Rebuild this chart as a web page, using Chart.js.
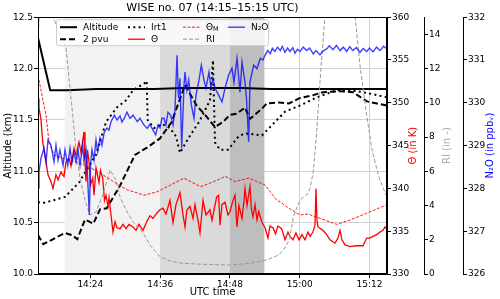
<!DOCTYPE html>
<html>
<head>
<meta charset="utf-8">
<script src="https://cdn.jsdelivr.net/npm/chart.js@4.4.0/dist/chart.umd.min.js"></script>
<style>
  body { margin: 0; background: #fff; }
</style>
</head>
<body>
<canvas id="myChart" width="500" height="299"></canvas>
<script>
// time axis: minutes after 14:15 UTC
var xTicks = [9, 21, 33, 45, 57];
var xTickLabels = ['14:24', '14:36', '14:48', '15:00', '15:12'];

// shaded time windows (minutes)
var spanStart = [4.6, 21, 33];
var spanEnd = [38.9, 38.9, 38.9];

// altitude (km)
var altT = [0, 2.1, 5, 10, 15, 20, 25, 30, 35, 40, 45, 50, 55, 60];
var altV = [12.30, 11.79, 11.79, 11.80, 11.80, 11.80, 11.81, 11.81, 11.81, 11.80, 11.80, 11.80, 11.80, 11.80];

// 2 pvu surface (km)
var pvuT = [0, 0.91, 4.64, 5.79, 6.76, 8.08, 9.51, 10.66, 11.81, 14.10, 16.67, 18.74, 20.97, 22.98, 25.27, 27.28, 28.71, 30.43, 31.80, 33.01, 34.16, 35.59, 36.44, 38.51, 39.32, 41.43, 43.15, 44.87, 47.27, 48.99, 51.92, 54.15, 56.56, 58.28, 60];
var pvuV = [10.38, 10.29, 10.40, 10.38, 10.34, 10.53, 10.49, 10.63, 10.64, 10.86, 11.16, 11.23, 11.32, 11.48, 11.84, 11.64, 11.55, 11.43, 11.48, 11.55, 11.56, 11.62, 11.51, 11.61, 11.66, 11.67, 11.66, 11.71, 11.74, 11.77, 11.78, 11.77, 11.68, 11.66, 11.64];

// Irt1 (km)
var irtT = [0, 0.86, 4.64, 7.05, 9.97, 11.69, 13.53, 15.13, 16.33, 18.39, 18.69, 18.86, 19.94, 21.32, 22.69, 23.72, 24.41, 25.96, 27.68, 29.57, 30.08, 30.43, 31.29, 32.66, 34.50, 35.59, 38.51, 40.23, 42.46, 45.04, 47.96, 51.40, 54.84, 57.59, 60];
var irtV = [10.70, 10.69, 10.75, 10.89, 11.16, 11.48, 11.62, 11.69, 11.79, 11.86, 11.88, 11.50, 11.42, 11.46, 11.42, 11.34, 11.18, 11.33, 11.48, 11.69, 12.08, 11.28, 11.21, 11.21, 11.34, 11.37, 11.35, 11.45, 11.58, 11.64, 11.72, 11.79, 11.78, 11.75, 11.72];

// potential temperature (K)
var thetaT = [0, 0.17, 0.52, 0.81, 1.38, 1.72, 2.23, 2.58, 3.09, 3.44,
  3.95, 4.47, 4.81, 5.33, 5.67, 6.19, 6.53, 7.05, 7.39, 7.91,
  8.08, 8.25, 8.51, 8.77, 9.03, 9.40, 9.63, 9.97, 10.49, 10.74,
  11.12, 11.43, 11.69, 12.03, 12.21, 12.55, 12.89, 13.24, 13.58, 14.10,
  14.61, 15.13, 15.64, 16.33, 16.85, 17.36, 18.05, 18.69, 19.25, 19.77,
  20.41, 20.97, 21.49, 22.00, 22.69, 23.21, 23.72, 24.41, 24.93, 25.27,
  25.61, 26.13, 26.65, 26.99, 27.50, 27.85, 28.37, 28.88, 29.57, 29.91,
  30.72, 31.06, 31.29, 31.63, 32.15, 32.66, 33.01, 33.52, 33.87, 34.21,
  34.55, 35.07, 35.42, 35.59, 35.94, 36.19, 36.44, 36.70, 36.96, 37.31,
  37.65, 37.94, 38.46, 39.03, 39.54, 39.88, 40.40, 40.83, 41.26, 41.89,
  42.46, 42.98, 43.32, 43.84, 44.35, 44.87, 45.38, 45.90, 46.42, 46.76,
  47.27, 47.62, 47.79, 47.96, 48.13, 48.99, 49.63, 50.20, 51.06, 51.57,
  51.92, 52.26, 52.78, 53.64, 54.67, 55.87, 56.51, 57.07, 57.59, 58.23,
  58.80, 59.31, 59.65, 60];
var thetaV = [350.5, 349.4, 348.0, 345.4, 343.1, 341.6, 340.8, 340.0, 341.6, 341.0,
  341.9, 341.4, 343.1, 343.5, 342.6, 344.7, 343.9, 345.4, 344.2, 346.6,
  343.3, 340.8, 344.5, 343.1, 340.4, 341.2, 339.2, 342.4, 340.7, 342.1,
  341.2, 338.6, 339.2, 337.9, 338.9, 336.9, 334.9, 336.1, 335.4, 335.3,
  335.8, 335.3, 335.8, 335.5, 335.1, 335.8, 335.1, 336.1, 336.8, 336.5,
  337.1, 337.5, 337.7, 337.0, 338.6, 336.0, 338.1, 339.5, 336.9, 335.5,
  337.5, 337.9, 336.5, 338.1, 336.3, 334.8, 338.6, 336.9, 337.5, 336.3,
  339.0, 339.2, 335.7, 338.1, 338.4, 336.9, 337.3, 338.6, 339.2, 335.5,
  338.0, 336.5, 338.6, 340.0, 338.0, 339.2, 340.2, 337.5, 336.7, 338.1,
  336.3, 337.3, 336.1, 335.4, 334.2, 335.6, 335.4, 334.7, 335.6, 335.3,
  334.0, 334.9, 334.4, 334.0, 334.8, 334.0, 334.6, 334.0, 334.9, 334.4,
  334.9, 335.7, 340.0, 336.3, 335.5, 335.1, 334.6, 334.0, 333.6, 334.2,
  335.1, 334.0, 333.4, 333.2, 333.3, 333.3, 334.2, 334.2, 334.4, 334.6,
  334.9, 335.1, 335.5, 335.2];

// model potential temperature (K)
var thetaMT = [0, 0.52, 1.03, 1.38, 1.89, 2.75, 4.25, 6.53, 8.77, 11.12, 13.41, 15.42, 16.50, 18.22, 20.46, 22.81, 25.10, 26.47, 27.97, 30.26, 32.20, 33.87, 36.22, 39.03, 40.80, 43.10, 45.04, 46.42, 48.48, 51.35, 53.64, 56.51, 60];
var thetaMV = [353.2, 351.5, 349.7, 348.6, 345.4, 343.9, 343.5, 343.1, 342.5, 341.6, 340.6, 339.8, 339.6, 339.2, 339.6, 340.4, 341.2, 340.7, 340.2, 340.8, 341.4, 340.8, 341.2, 340.4, 338.8, 337.7, 336.9, 337.0, 336.5, 335.8, 336.3, 337.1, 338.1];

// Richardson number (-), values above 15 leave the plot
var riT = [0, 0.26, 1.4, 2.58, 4.81, 5.97, 6.53, 7.22, 8.08, 8.94, 9.97, 11.12, 12.38, 12.89, 13.41, 14.10, 15.13, 16.33, 18.10, 19.25, 20.97, 22.69, 24.93, 29.57, 33.01, 36.44, 39.32, 41.38, 42.46, 43.32, 43.89, 44.35, 45.04, 46.42, 46.76, 47.33, 47.91, 48.48, 49.34, 51.92, 54.50, 55.35, 56.51, 57.37, 58.50, 59.95];
var riV = [13.66, 15.4, 20, 15.0, 13.2, 9.28, 7.24, 5.6, 4.32, 3.44, 3.62, 4.61, 6.07, 5.78, 5.49, 4.51, 3.74, 3.05, 2.38, 1.69, 1.01, 0.76, 0.62, 0.55, 0.53, 0.62, 0.82, 1.11, 1.52, 2.10, 3.35, 3.74, 4.32, 4.71, 5.00, 5.97, 8.31, 11.23, 15.1, 20, 15.1, 12.2, 9.28, 7.34, 5.78, 4.51];

// N2O (ppbv)
var n2oT = [0, 0.17, 0.52, 1.03, 1.38, 1.72, 2.23, 2.75, 3.09, 3.44,
  3.78, 4.30, 4.64, 5.11, 5.50, 5.84, 6.19, 6.53, 6.88, 7.22,
  7.68, 7.91, 8.25, 8.51, 8.82, 9.03, 9.28, 9.63, 9.97, 10.26,
  10.66, 11.00, 11.40, 11.86, 12.21, 12.55, 13.12, 13.58, 14.10, 14.44,
  14.84, 15.30, 15.82, 16.33, 17.07, 17.53, 18.22, 18.79, 19.25, 19.77,
  20.23, 20.63, 20.97, 21.32, 21.66, 22.00, 22.35, 22.81, 23.21, 23.55,
  23.90, 24.15, 24.41, 24.70, 25.10, 25.27, 25.61, 25.91, 26.36, 26.82,
  27.16, 27.68, 28.08, 28.54, 28.88, 29.40, 29.74, 30.08, 30.43, 31.06,
  31.63, 32.15, 32.78, 33.35, 33.69, 34.21, 34.73, 35.07, 35.59, 35.84,
  36.22, 36.44, 37.08, 37.65, 38.22, 38.68, 39.03, 39.50, 39.93, 40.30,
  40.74, 41.20, 41.65, 42.00, 42.46, 42.90, 43.32, 43.80, 44.18, 44.60,
  45.04, 45.60, 46.19, 46.70, 47.33, 47.80, 48.48, 48.90, 49.63, 50.10,
  50.71, 51.30, 51.92, 52.50, 53.07, 53.60, 54.15, 54.70, 55.35, 55.90,
  56.51, 57.00, 57.59, 58.20, 58.80, 59.40, 60];
var n2oV = [328.01, 328.39, 328.71, 328.94, 328.61, 329.13, 329.01, 328.62, 329.01, 328.66,
  328.90, 328.54, 328.90, 328.54, 328.94, 328.61, 328.85, 328.62, 328.90, 328.54,
  329.01, 328.66, 328.90, 328.31, 327.38, 328.54, 328.90, 328.66, 329.13, 328.86,
  329.18, 329.01, 329.32, 329.41, 329.36, 329.56, 329.71, 329.60, 329.69, 329.55,
  329.64, 329.78, 329.64, 329.71, 329.56, 329.64, 329.48, 329.40, 329.50, 329.36,
  329.25, 329.48, 329.41, 329.64, 329.64, 329.48, 329.78, 329.71, 329.48, 329.83,
  331.11, 330.11, 330.57, 328.94, 330.40, 330.72, 330.30, 330.53, 329.95, 329.64,
  330.18, 330.53, 330.88, 330.53, 330.34, 330.72, 330.34, 330.57, 330.34, 330.18,
  330.02, 330.34, 330.65, 330.81, 330.48, 331.04, 330.25, 330.95, 330.48, 330.11,
  329.09, 330.48, 330.88, 330.80, 331.04, 331.00, 331.11, 331.22, 331.15, 331.27,
  331.20, 331.30, 331.22, 331.32, 331.18, 331.28, 331.20, 331.29, 331.16, 331.25,
  331.20, 331.30, 331.22, 331.28, 331.14, 331.22, 331.12, 331.20, 331.26, 331.33,
  331.24, 331.34, 331.22, 331.30, 331.20, 331.31, 331.22, 331.29, 331.18, 331.27,
  331.20, 331.28, 331.19, 331.30, 331.22, 331.32, 331.26];

var riTicks = [0, 2, 4, 6, 8, 10, 12, 14];
var legendLabels = ['Altitude', '2 pvu', 'Irt1', 'Θ', 'Θ_M', 'RI', 'N₂O'];

function pts(t, v) {
    return t.map(function(x, i) { return {x: x, y: v[i]}; });
}

Chart.defaults.font.family = 'DejaVu Sans';
Chart.defaults.font.size = 9;
Chart.defaults.color = '#000';

function drawLabel(c, text, x, y) {
    // text with optional "_X" subscript
    var parts = text.split('_');
    c.font = '9px "DejaVu Sans"';
    c.fillText(parts[0], x, y);
    if (parts.length > 1) {
        var w = c.measureText(parts[0]).width;
        c.font = '6.5px "DejaVu Sans"';
        c.fillText(parts[1], x + w, y + 2.5);
    }
}

var decor = {
    id: 'decor',
    beforeDatasetsDraw: function(chart) {
        var a = chart.chartArea, xs = chart.scales.x, c = chart.ctx;
        var fills = ['#f2f2f2', '#dadada', '#bebebe'];
        c.save();
        for (var i = 0; i < spanStart.length; i++) {
            var x0 = xs.getPixelForValue(spanStart[i]);
            var x1 = xs.getPixelForValue(spanEnd[i]);
            c.fillStyle = fills[i];
            c.fillRect(x0, a.top, x1 - x0, a.bottom - a.top);
        }
        c.restore();
    },
    afterDraw: function(chart) {
        var a = chart.chartArea, c = chart.ctx;
        c.save();
        // frame
        c.strokeStyle = '#000';
        c.lineWidth = 1;
        c.strokeRect(Math.round(a.left) + 0.5, Math.round(a.top) + 0.5, Math.round(a.right - a.left) - 1, Math.round(a.bottom - a.top) - 1);

        // legend box
        var L = a.left + 18, T = a.top + 2;
        c.fillStyle = 'rgba(255,255,255,0.8)';
        c.strokeStyle = '#cccccc';
        c.beginPath();
        c.roundRect(L + 0.5, T + 0.5, 212, 26, 2);
        c.fill();
        c.stroke();
        var colX = [4, 72, 127, 172];
        var rowY = [8, 20];
        c.textBaseline = 'middle';
        c.textAlign = 'left';
        for (var i = 0; i < legendLabels.length; i++) {
            var ds = chart.data.datasets.find(function(d) { return d.label === legendLabels[i]; });
            var lx = L + colX[Math.floor(i / 2)], ly = T + rowY[i % 2];
            c.strokeStyle = ds.borderColor;
            c.lineWidth = ds.borderWidth;
            c.setLineDash(ds.borderDash || []);
            c.beginPath();
            c.moveTo(lx, ly);
            c.lineTo(lx + 17, ly);
            c.stroke();
            c.setLineDash([]);
            c.fillStyle = '#000';
            drawLabel(c, legendLabels[i], lx + 23, ly);
        }

        // right axis titles, read bottom to top
        var titles = [
            ['yTheta', 'Θ (in K)', '#ff0000', 11],
            ['yRI', 'RI (in -)', '#aaaaaa', 16],
            ['yN2O', 'N₂O (in ppbᵥ)', '#0000ff', 10]
        ];
        c.font = '10px "DejaVu Sans"';
        c.textAlign = 'center';
        titles.forEach(function(t) {
            var s = chart.scales[t[0]];
            c.save();
            c.translate(s.right - t[3], (a.top + a.bottom) / 2);
            c.rotate(-Math.PI / 2);
            c.fillStyle = t[2];
            c.fillText(t[1], 0, 0);
            c.restore();
        });
        c.restore();
    }
};

var ctx = document.getElementById('myChart').getContext('2d');

var rightTick = {
    drawOnChartArea: false,
    tickColor: '#000',
    tickLength: 4
};

var chart = new Chart(ctx, {
    type: 'line',
    data: {
        datasets: [{
            label: 'N₂O',
            yAxisID: 'yN2O',
            data: pts(n2oT, n2oV),
            borderColor: 'rgba(0,0,255,0.75)',
            borderWidth: 1.4
        }, {
            label: 'RI',
            yAxisID: 'yRI',
            data: pts(riT, riV),
            borderColor: '#999999',
            borderWidth: 1,
            borderDash: [4, 2]
        }, {
            label: 'Θ',
            yAxisID: 'yTheta',
            data: pts(thetaT, thetaV),
            borderColor: '#ff0000',
            borderWidth: 1.3
        }, {
            label: 'Θ_M',
            yAxisID: 'yTheta',
            data: pts(thetaMT, thetaMV),
            borderColor: '#ff0000',
            borderWidth: 0.9,
            borderDash: [3, 1.5]
        }, {
            label: 'Irt1',
            yAxisID: 'y',
            data: pts(irtT, irtV),
            borderColor: '#000',
            borderWidth: 2,
            borderDash: [2, 3.3]
        }, {
            label: '2 pvu',
            yAxisID: 'y',
            data: pts(pvuT, pvuV),
            borderColor: '#000',
            borderWidth: 2,
            borderDash: [6, 3]
        }, {
            label: 'Altitude',
            yAxisID: 'y',
            data: pts(altT, altV),
            borderColor: '#000',
            borderWidth: 2
        }]
    },
    options: {
        responsive: false,
        animation: false,
        devicePixelRatio: 1,
        elements: { point: { radius: 0 }, line: { tension: 0 } },
        layout: { padding: 0 },
        plugins: {
            legend: { display: false },
            tooltip: { enabled: false },
            title: {
                display: true,
                text: 'WISE no. 07 (14:15–15:15 UTC)',
                font: { size: 11, weight: 'normal' },
                color: '#000',
                padding: { top: 2, bottom: 2 },
                fullSize: false
            }
        },
        scales: {
            x: {
                type: 'linear',
                min: 0,
                max: 60,
                afterBuildTicks: function(s) {
                    s.ticks = xTicks.map(function(v) { return {value: v}; });
                },
                afterFit: function(s) { s.height = 25; },
                ticks: {
                    padding: 1,
                    maxRotation: 0,
                    callback: function(v) { return xTickLabels[xTicks.indexOf(v)]; }
                },
                grid: { color: '#d0d0d0', tickColor: '#000', tickLength: 4 },
                border: { color: '#000' },
                title: { display: true, text: 'UTC time', font: { size: 10 }, padding: { top: 0, bottom: 1 } }
            },
            y: {
                position: 'left',
                min: 10,
                max: 12.5,
                afterFit: function(s) { s.width = 38; },
                ticks: { stepSize: 0.5, padding: 1, callback: function(v) { return v.toFixed(1); } },
                grid: { color: '#d0d0d0', tickColor: '#000', tickLength: 4 },
                border: { color: '#000' },
                title: { display: true, text: 'Altitude (km)', font: { size: 10 }, padding: { top: 2, bottom: 0 } }
            },
            yTheta: {
                position: 'right',
                weight: 0,
                min: 330,
                max: 360,
                afterFit: function(s) { s.width = 37; },
                ticks: { stepSize: 5, padding: 1 },
                grid: rightTick,
                border: { color: '#000' }
            },
            yRI: {
                position: 'right',
                weight: 1,
                min: 0,
                max: 15,
                afterBuildTicks: function(s) {
                    s.ticks = riTicks.map(function(v) { return {value: v}; });
                },
                afterFit: function(s) { s.width = 39; },
                ticks: { padding: 1 },
                grid: rightTick,
                border: { color: '#000' }
            },
            yN2O: {
                position: 'right',
                weight: 2,
                min: 326,
                max: 332,
                afterFit: function(s) { s.width = 37; },
                ticks: { stepSize: 1, padding: 1 },
                grid: rightTick,
                border: { color: '#000' }
            }
        }
    },
    plugins: [decor]
});
</script>
</body>
</html>
